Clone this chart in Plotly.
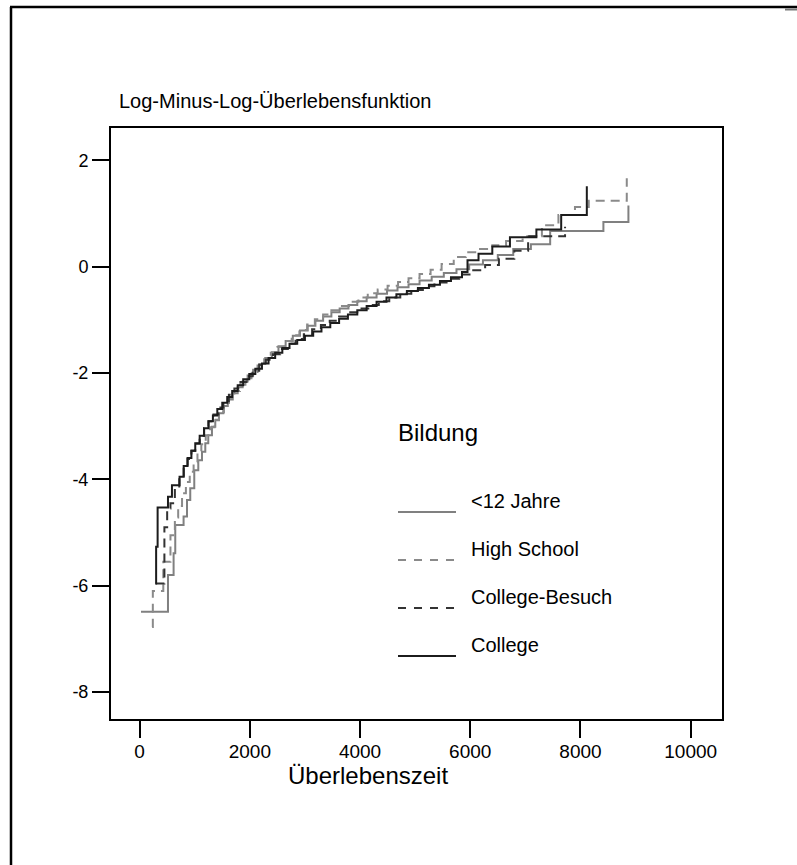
import plotly.graph_objects as go

# Log-minus-log survival estimates by education group (step functions)
lt12_t = [25, 515, 617, 647, 798, 860, 919, 992, 1065, 1132, 1192, 1246, 1313, 1373,
          1440, 1520, 1600, 1690, 1780, 1870, 1960, 2060, 2170, 2280, 2400, 2520, 2650,
          2780, 2910, 3050, 3190, 3330, 3480, 3630, 3790, 3950, 4120, 4300, 4490, 4680,
          4880, 5080, 5300, 5520, 5750, 5980, 6230, 6500, 6780, 7100, 7450, 8416, 8870]
lt12_v = [-6.49, -5.80, -5.39, -4.86, -4.70, -4.39, -4.17, -3.83, -3.64, -3.48, -3.32,
          -3.17, -3.01, -2.89, -2.76, -2.62, -2.50, -2.38, -2.27, -2.16, -2.05, -1.94,
          -1.83, -1.72, -1.61, -1.50, -1.40, -1.30, -1.20, -1.11, -1.02, -0.94, -0.86,
          -0.79, -0.72, -0.65, -0.58, -0.51, -0.45, -0.39, -0.33, -0.26, -0.19, -0.12,
          -0.05, 0.04, 0.12, 0.22, 0.33, 0.42, 0.67, 0.84, 1.15]

hs_t = [227, 240, 430, 560, 640, 700, 770, 840, 910, 980, 1050, 1120, 1200, 1280, 1360,
        1440, 1530, 1620, 1720, 1820, 1920, 2030, 2140, 2260, 2380, 2500, 2630, 2760,
        2900, 3040, 3180, 3330, 3480, 3640, 3800, 3970, 4140, 4320, 4500, 4690, 4880,
        5080, 5280, 5480, 5700, 5920, 6150, 6400, 6650, 6950, 7300, 7600, 7900, 8150, 8840]
hs_v = [-6.78, -6.10, -5.55, -5.05, -4.72, -4.50, -4.26, -4.05, -3.86, -3.68, -3.51,
        -3.34, -3.17, -3.02, -2.88, -2.74, -2.60, -2.47, -2.34, -2.22, -2.10, -1.98,
        -1.86, -1.74, -1.62, -1.51, -1.40, -1.29, -1.19, -1.09, -0.99, -0.90, -0.82,
        -0.74, -0.66, -0.58, -0.50, -0.43, -0.36, -0.29, -0.22, -0.14, -0.06, 0.05,
        0.18, 0.27, 0.33, 0.40, 0.48, 0.57, 0.78, 0.97, 1.12, 1.24, 1.66]

cb_t = [287, 450, 500, 560, 640, 720, 800, 870, 940, 1010, 1090, 1170, 1250, 1340, 1430,
        1520, 1620, 1720, 1830, 1940, 2050, 2170, 2290, 2420, 2550, 2690, 2830, 2980,
        3130, 3290, 3450, 3620, 3790, 3970, 4150, 4340, 4530, 4730, 4930, 5140, 5350,
        5570, 5800, 6030, 6270, 6520, 6800, 7050, 7720]
cb_v = [-5.96, -4.90, -4.55, -4.45, -4.20, -4.00, -3.80, -3.62, -3.47, -3.33, -3.18,
        -3.04, -2.91, -2.78, -2.65, -2.53, -2.41, -2.29, -2.17, -2.06, -1.96, -1.85,
        -1.75, -1.65, -1.55, -1.45, -1.36, -1.27, -1.18, -1.10, -1.02, -0.94, -0.86,
        -0.79, -0.72, -0.65, -0.58, -0.51, -0.44, -0.37, -0.30, -0.23, -0.15, -0.07,
        0.03, 0.15, 0.30, 0.57, 0.75]

col_t = [287, 300, 327, 515, 587, 725, 800, 870, 940, 1010, 1090, 1170, 1250, 1330, 1410,
         1500, 1590, 1680, 1780, 1880, 1990, 2100, 2220, 2340, 2460, 2590, 2720, 2860,
         3000, 3150, 3300, 3460, 3620, 3780, 3950, 4120, 4300, 4480, 4660, 4850, 5050,
         5250, 5450, 5650, 5850, 5950, 6150, 6400, 6720, 7200, 7650, 8115]
col_v = [-5.96, -5.27, -4.53, -4.33, -4.11, -3.95, -3.75, -3.60, -3.46, -3.32, -3.18,
         -3.04, -2.91, -2.80, -2.68, -2.56, -2.45, -2.34, -2.23, -2.12, -2.02, -1.92,
         -1.82, -1.72, -1.62, -1.53, -1.45, -1.38, -1.30, -1.22, -1.14, -1.06, -0.98,
         -0.90, -0.82, -0.74, -0.66, -0.58, -0.52, -0.46, -0.40, -0.34, -0.27, -0.20,
         -0.10, 0.12, 0.24, 0.38, 0.55, 0.70, 0.97, 1.51]

groups = ["<12 Jahre", "High School", "College-Besuch", "College"]
series_t = [lt12_t, hs_t, cb_t, col_t]
series_v = [lt12_v, hs_v, cb_v, col_v]
colors = ["#808080", "#8a8a8a", "#333333", "#1c1c1c"]
dashes = ["solid", "9px,6px", "9px,6px", "solid"]
legend_dash = ["solid", "8px,8px", "8px,8px", "solid"]

x_ticks = [0, 2000, 4000, 6000, 8000, 10000]
y_ticks = [-8, -6, -4, -2, 0, 2]

FONT = "Liberation Sans, Arial, sans-serif"
W, H = 797, 865
ML, MR, MT, MB = 111, 75, 128, 146
PW, PH = W - ML - MR, H - MT - MB


def px(x):
    return (x - ML) / PW


def py(y):
    return (H - MB - y) / PH


fig = go.Figure()
for name, t, v, c, d in zip(groups, series_t, series_v, colors, dashes):
    fig.add_trace(go.Scatter(x=t, y=v, mode="lines", name=name,
                             line=dict(color=c, width=2, dash=d, shape="hv"),
                             showlegend=False, hoverinfo="skip"))

shapes = [
    # outer frame (top and left edges)
    dict(type="line", xref="paper", yref="paper", x0=px(10), x1=px(797),
         y0=py(7), y1=py(7), line=dict(color="black", width=2.5)),
    dict(type="line", xref="paper", yref="paper", x0=px(11), x1=px(11),
         y0=py(7), y1=py(865), line=dict(color="black", width=2.5)),
    dict(type="line", xref="paper", yref="paper", x0=px(785), x1=px(797),
         y0=py(9.5), y1=py(9.5), line=dict(color="#777777", width=2)),
]
annotations = [
    dict(text="Log-Minus-Log-Überlebensfunktion", xref="paper", yref="paper",
         x=px(117), y=py(101), xanchor="left", yanchor="middle", showarrow=False,
         font=dict(family=FONT, size=20, color="black")),
    dict(text="Überlebenszeit", xref="paper", yref="paper",
         x=px(368), y=py(775), xanchor="center", yanchor="middle", showarrow=False,
         font=dict(family=FONT, size=24, color="black")),
    dict(text="Bildung", xref="paper", yref="paper",
         x=px(396), y=py(432), xanchor="left", yanchor="middle", showarrow=False,
         font=dict(family=FONT, size=24, color="black")),
]

# legend entries
leg_text_y = [501, 549, 597, 645]
for name, c, d, ty in zip(groups, colors, legend_dash, leg_text_y):
    ly = ty + 11
    shapes.append(dict(type="line", xref="paper", yref="paper", x0=px(398), x1=px(456),
                       y0=py(ly), y1=py(ly), line=dict(color=c, width=2, dash=d)))
    annotations.append(dict(text=name, xref="paper", yref="paper", x=px(469), y=py(ty),
                            xanchor="left", yanchor="middle", showarrow=False,
                            font=dict(family=FONT, size=20, color="black")))

axis_common = dict(showline=True, mirror=True, linecolor="black", linewidth=2,
                   ticks="outside", ticklen=17, tickwidth=1.5, tickcolor="black",
                   showgrid=False, zeroline=False)

fig.update_layout(
    width=W, height=H,
    margin=dict(l=ML, r=MR, t=MT, b=MB),
    paper_bgcolor="white", plot_bgcolor="white",
    xaxis=dict(range=[-519, 10568], tickvals=x_ticks,
               ticktext=[str(v) for v in x_ticks], ticklabelstandoff=-3,
               tickfont=dict(family=FONT, size=19, color="black"), **axis_common),
    yaxis=dict(range=[-8.508, 2.607], tickvals=y_ticks,
               ticktext=[str(v) for v in y_ticks],
               tickfont=dict(family=FONT, size=18, color="black"), **axis_common),
    shapes=shapes, annotations=annotations, showlegend=False,
)

fig.write_html("out.html")
